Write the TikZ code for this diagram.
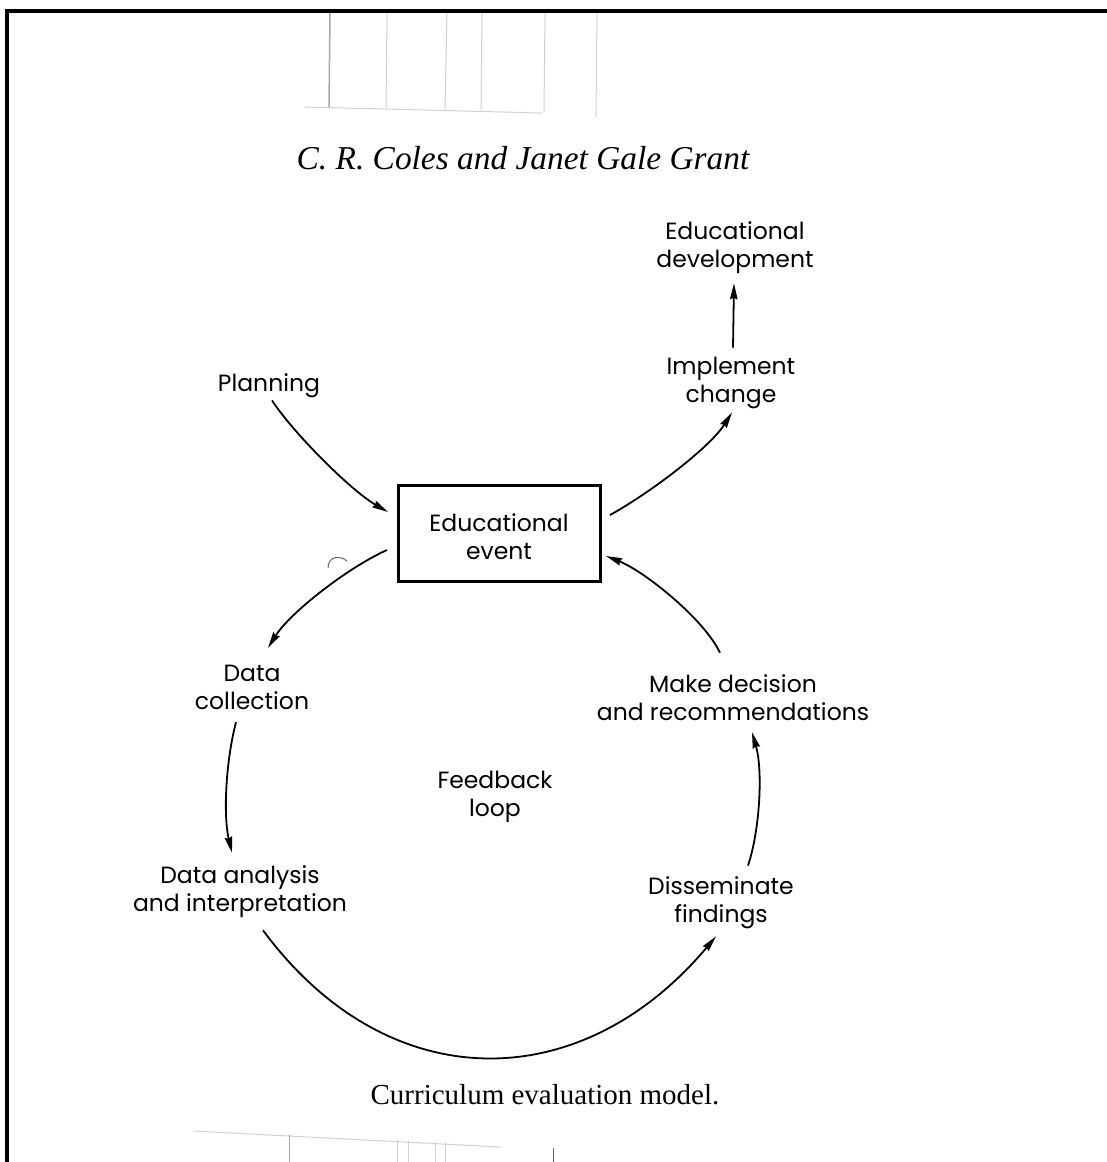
\documentclass[tikz,border=0pt]{standalone}
\usepackage{fontspec}
\setsansfont{Poppins}
\newfontfamily\titlefont{Liberation Serif}
\usetikzlibrary{arrows.meta}
\newcommand\lnst{\rule[-6pt]{0pt}{24pt}}
\newcommand\boxst{\rule[-6pt]{0pt}{36pt}}
\begin{document}
\begin{tikzpicture}[x=1pt,y=-1pt,
  lab/.style={font=\sffamily\fontsize{23.5}{28}\selectfont, align=center, inner sep=0pt},
  arr/.style={line width=1.8pt, -{Stealth[length=16pt,width=7.5pt,inset=1.5pt]}},
  faint/.style={line width=1pt, black!18},
  evbox/.style={draw, line width=3pt, minimum width=202pt, minimum height=96pt, outer sep=0pt}]
\useasboundingbox (0,0) rectangle (1107,1162);
\fill[white] (0,0) rectangle (1107,1162);
% frame
\draw[line width=4pt] (7,1162) -- (7,11) -- (1107,11);
% faint scan lines (top)
\draw[faint, black!35, line width=1.5pt] (330,13) -- (329,108);
\draw[faint] (387,13) -- (386,108);
\draw[faint] (447,13) -- (445,110);
\draw[faint] (482,13) -- (481,110);
\draw[faint] (545,13) -- (544,112);
\draw[faint] (597,13) -- (596,117);
\draw[faint] (305,107) -- (542,113);
% faint scan lines (bottom)
\draw[faint] (193,1131) -- (500,1147);
\draw[faint, black!35] (289,1135) -- (289,1162);
\draw[faint] (397,1140) -- (397,1162);
\draw[faint] (408,1140) -- (408,1162);
\draw[faint] (435,1142) -- (435,1162);
\draw[faint] (445,1142) -- (445,1162);
\draw[black!60, line width=1pt] (553,1148) -- (553,1162);
% stray pen mark
\draw[black!60, line width=1pt] (328,568) .. controls (328,556) and (340,555) .. (347,561);
% texts
\node[font=\titlefont\itshape\fontsize{33.4}{40}\selectfont, anchor=base, inner sep=0pt] (title) at (523,169) {C. R. Coles and Janet Gale Grant};
\node[lab] (edudev) at (735,248) {\lnst Educational\\\lnst development};
\node[lab] (implement) at (731,383) {\lnst Implement\\\lnst change};
\node[lab] (planning) at (269,386) {\lnst Planning};
\node[lab, evbox] (box) at (499,533) {\boxst Educational\\\lnst event};
\node[lab] (datacoll) at (252,689) {\lnst Data\\\lnst collection};
\node[lab] (dataan) at (240,892) {\lnst Data analysis\\\lnst and interpretation};
\node[lab] (feedback) at (495,797) {\lnst Feedback\\\lnst loop};
\node[lab] (makedec) at (733,700) {\lnst Make decision\\\lnst and recommendations};
\node[lab] (dissem) at (721,903) {\lnst Disseminate\\\lnst findings};
\node[font=\titlefont\fontsize{29}{34}\selectfont, anchor=base, inner sep=0pt] (caption) at (545,1104) {Curriculum evaluation model.};
% connectors
\draw[arr] ([shift={(3,2)}]planning.south) .. controls +(20,31) and +(-38,-22) .. ([shift={(-10,-21)}]box.west);
\draw[arr] ([shift={(10,-18)}]box.east) .. controls +(40,-22) and +(-22,35) .. ([shift={(1,3)}]implement.south);
\draw[arr] ([shift={(2,-9)}]implement.north) -- ([shift={(-1,9)}]edudev.south);
\draw[arr] ([shift={(-11,17)}]box.west) .. controls +(-40,18) and +(22,-35) .. ([shift={(16,-15)}]datacoll.north);
\draw[arr] ([shift={(-16,7)}]datacoll.south) .. controls +(-10,38) and +(-9,-38) .. ([shift={(-8,-13)}]dataan.north);
\draw[arr] ([shift={(23,12)}]dataan.south) .. controls +(124,168) and +(-136,162) .. ([shift={(-5,7)}]dissem.south);
\draw[arr] ([shift={(27,-11)}]dissem.north) .. controls +(12,-36) and +(11,38) .. ([shift={(19,6)}]makedec.south);
\draw[arr] ([shift={(-13,-21)}]makedec.north) .. controls +(-16,-34) and +(38,15) .. ([shift={(6,23)}]box.east);
\end{tikzpicture}
\end{document}
